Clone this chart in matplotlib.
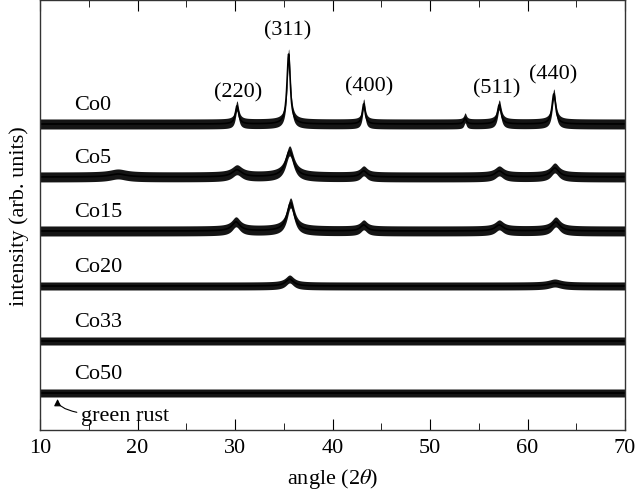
import numpy as np
import matplotlib
matplotlib.use('Agg')
import matplotlib.pyplot as plt

plt.rcParams['font.family'] = ['Liberation Serif', 'DejaVu Serif']
plt.rcParams['mathtext.fontset'] = 'stix'

# samples, vertical offsets of each trace and the noise half-width (arb. units)
samples = ['Co0', 'Co5', 'Co15', 'Co20', 'Co33', 'Co50']
offsets = [306, 253, 199, 144, 89, 37]
noise = [5, 5, 5, 4, 4, 4]

# peaks: position (2theta), height, FWHM
peak_pos = [
    [30.2, 35.5, 43.2, 53.6, 57.1, 62.7],
    [18.0, 30.2, 35.6, 43.2, 57.1, 62.8],
    [30.1, 35.7, 43.2, 57.1, 62.9],
    [35.6, 62.8],
    [],
    [],
]
peak_h = [
    [18, 70, 20, 6, 19, 30],
    [3, 7, 26, 6, 6, 9],
    [9, 28, 6, 6, 9],
    [7, 3],
    [],
    [],
]
peak_w = [
    [0.4, 0.4, 0.35, 0.3, 0.45, 0.45],
    [2.0, 1.2, 1.0, 0.8, 1.0, 1.0],
    [1.0, 0.9, 0.8, 1.0, 1.0],
    [1.0, 1.5],
    [],
    [],
]

# reflections
hkl = ['(220)', '(311)', '(400)', '(511)', '(440)']
hkl_x = [30.3, 35.4, 43.8, 56.8, 62.6]
hkl_y = [338, 400, 344, 342, 356]

two_theta = np.linspace(10, 70, 3000)

fig = plt.figure(figsize=(6.37, 5.02), dpi=100)
ax = fig.add_axes([40 / 637, 71 / 502, 585 / 637, 430 / 502])

for i, name in enumerate(samples):
    y = np.full_like(two_theta, offsets[i], dtype=float)
    for p, h, w in zip(peak_pos[i], peak_h[i], peak_w[i]):
        g = (w / 2) ** 2
        y += h * g / ((two_theta - p) ** 2 + g)
    ax.fill_between(two_theta, y - noise[i], y + noise[i], color='#151515', lw=0)
    ax.plot(two_theta, y, color='black', lw=1.2)
    ax.text(13.5, offsets[i] + 10, name, fontsize=16, ha='left', va='bottom')

for lab, xx, yy in zip(hkl, hkl_x, hkl_y):
    ax.text(xx, yy, lab, fontsize=16, ha='center', va='center')

ax.annotate('green rust', xy=(11.8, offsets[-1] - 6), xytext=(14.2, 14),
            fontsize=16, ha='left', va='center',
            arrowprops=dict(arrowstyle='-|>', color='black', lw=0.8,
                            connectionstyle='angle3,angleA=180,angleB=90',
                            shrinkA=1, shrinkB=0, mutation_scale=10))

ax.set_xlim(10, 70)
ax.set_ylim(0, 430)
ax.set_xticks(np.arange(10, 71, 10))
ax.set_xticks(np.arange(15, 70, 10), minor=True)
ax.set_yticks([])
ax.tick_params(axis='x', which='major', direction='in', length=8, top=True, labelsize=16, pad=6)
ax.tick_params(axis='x', which='minor', direction='in', length=5, top=True)
for s in ax.spines.values():
    s.set_linewidth(1.0)
    s.set_color('#333333')

ax.set_xlabel('angle (2$\\theta$)', fontsize=16, labelpad=6)
ax.set_ylabel('intensity (arb. units)', fontsize=16, labelpad=8)

fig.savefig('out.png', dpi=100)
